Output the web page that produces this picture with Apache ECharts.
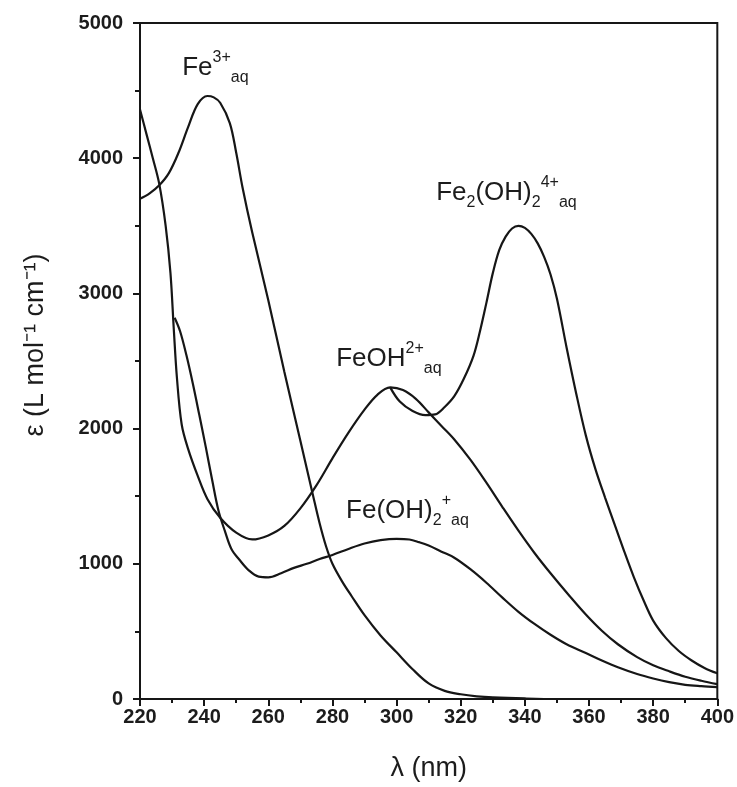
<!DOCTYPE html>
<html>
<head>
<meta charset="utf-8">
<script src="https://cdn.jsdelivr.net/npm/echarts@6/dist/echarts.min.js"></script>
<style>
  html, body { margin: 0; padding: 0; background: #fff; }
  #chart { width: 737px; height: 787px; }
</style>
</head>
<body>
<div id="chart"></div>
<script>
// wavelength (nm) / epsilon (L mol-1 cm-1)
const fe3X = [220, 223, 226, 229, 232, 235, 238, 241, 243, 245, 248, 250, 252, 255, 260, 265, 270, 274, 276, 278, 280, 283, 286, 290, 295, 300, 305, 310, 315, 320, 325, 330, 340, 350, 400];
const fe3Y = [3700, 3740, 3800, 3890, 4040, 4230, 4400, 4460, 4450, 4410, 4260, 4040, 3780, 3450, 2950, 2420, 1910, 1500, 1300, 1130, 1000, 870, 760, 620, 470, 345, 220, 115, 60, 35, 20, 12, 4, 0, 0];

const feohX = [220, 222, 224, 226, 228, 229.5, 230.5, 231.5, 233, 235, 238, 241, 245, 250, 255, 260, 265, 270, 275, 280, 285, 290, 294, 298, 302, 306, 310, 314, 318, 323, 328, 333, 338, 343, 348, 354, 359, 364, 369, 375, 380, 385, 390, 395, 400];
const feohY = [4360, 4180, 4000, 3810, 3500, 3150, 2750, 2380, 2030, 1850, 1650, 1480, 1340, 1230, 1180, 1210, 1280, 1410, 1580, 1780, 1970, 2140, 2250, 2305, 2285, 2220, 2120, 2020, 1920, 1770, 1600, 1420, 1245, 1080, 930, 760, 625, 505, 405, 310, 250, 205, 165, 135, 110];

const fe2X = [298, 301, 305, 309, 312, 315, 318, 321, 324, 326, 328, 330, 332, 334, 336, 338, 340, 342, 344, 346, 348, 350, 353, 356, 359, 362, 365, 368, 371, 374, 377, 380, 384, 388, 392, 396, 400];
const fe2Y = [2305, 2200, 2130, 2100, 2105, 2160, 2240, 2370, 2540, 2720, 2930, 3150, 3320, 3420, 3480, 3500, 3485, 3440, 3370, 3270, 3140, 2960, 2600, 2260, 1950, 1700, 1490, 1290, 1090, 900, 730, 580, 450, 355, 285, 230, 190];

const feoh2X = [230.8, 232.5, 234.5, 236.5, 238.5, 240.5, 242.5, 244.5, 246.5, 248.5, 251, 254, 257, 260, 264, 268, 272, 276, 280, 285, 290, 295, 300, 304, 307, 310, 314, 318, 323, 328, 333, 338, 343, 348, 353, 359, 364, 369, 375, 380, 385, 390, 395, 400];
const feoh2Y = [2820, 2720, 2540, 2330, 2100, 1865, 1620, 1390, 1240, 1110, 1030, 950, 905, 900, 930, 970, 1000, 1035, 1065, 1110, 1150, 1175, 1185, 1180, 1160, 1135, 1090, 1045, 960, 860, 750, 645, 555, 475, 405, 340, 285, 235, 185, 152, 125, 105, 95, 88];

const xTicks = [220, 400, 20];
const yTicks = [0, 5000, 1000];

function pairs(xs, ys) {
  return xs.map((x, i) => [x, ys[i]]);
}

const ink = '#161616';
const face = 'Liberation Sans, Arial';
const labelRich = {
  b: { fontSize: 26, lineHeight: 36, color: '#1c1c1c', fontFamily: face, verticalAlign: 'middle' },
  sup: { fontSize: 16, lineHeight: 22, color: '#1c1c1c', fontFamily: face, verticalAlign: 'top' },
  sub: { fontSize: 16, lineHeight: 22, color: '#1c1c1c', fontFamily: face, verticalAlign: 'bottom' },
  s2: { fontSize: 16, lineHeight: 26, color: '#1c1c1c', fontFamily: face, verticalAlign: 'bottom' }
};

function tag(coord, text) {
  return {
    symbol: 'circle',
    symbolSize: 1,
    itemStyle: { color: 'rgba(0,0,0,0)' },
    silent: true,
    data: [{
      coord: coord,
      label: { show: true, position: 'right', distance: 0, formatter: text, rich: labelRich }
    }]
  };
}

function curve(name, data, mark) {
  return {
    name: name,
    type: 'line',
    data: data,
    smooth: 0.35,
    symbol: 'none',
    lineStyle: { color: ink, width: 2.2 },
    markPoint: mark
  };
}

const chart = echarts.init(document.getElementById('chart'));
chart.setOption({
  animation: false,
  backgroundColor: '#fff',
  grid: {
    left: 140, right: 19, top: 23, bottom: 83,
    show: true, borderColor: ink, borderWidth: 2
  },
  xAxis: {
    type: 'value',
    min: xTicks[0], max: xTicks[1], interval: xTicks[2],
    name: 'λ (nm)',
    nameLocation: 'middle',
    nameGap: 56,
    nameTextStyle: { fontSize: 27, color: '#1c1c1c', fontFamily: face },
    axisLine: { lineStyle: { color: ink, width: 2 } },
    axisTick: { length: 7, lineStyle: { color: ink, width: 2 } },
    minorTick: { show: true, splitNumber: 2, length: 4, lineStyle: { color: ink, width: 2 } },
    splitLine: { show: false },
    axisLabel: {
      fontSize: 20, fontWeight: 'bold', color: '#1c1c1c', margin: 8, fontFamily: face,
      formatter: function (v) { return String(v); }
    }
  },
  yAxis: {
    type: 'value',
    min: yTicks[0], max: yTicks[1], interval: yTicks[2],
    name: 'ε (L mol⁻¹ cm⁻¹)',
    nameLocation: 'middle',
    nameGap: 91,
    nameRotate: 90,
    nameTextStyle: { fontSize: 27, color: '#1c1c1c', fontFamily: face, padding: [0, 0, 0, 32] },
    axisLine: { show: true, lineStyle: { color: ink, width: 2 } },
    axisTick: { show: true, length: 7, lineStyle: { color: ink, width: 2 } },
    minorTick: { show: true, splitNumber: 2, length: 5, lineStyle: { color: ink, width: 2 } },
    splitLine: { show: false },
    axisLabel: {
      fontSize: 20, fontWeight: 'bold', color: '#1c1c1c', margin: 17, fontFamily: face,
      formatter: function (v) { return String(v); }
    }
  },
  series: [
    curve('Fe3+aq', pairs(fe3X, fe3Y), tag([233, 4670], '{b|Fe}{sup|3+}{sub|aq}')),
    curve('FeOH2+aq', pairs(feohX, feohY), tag([281, 2518], '{b|FeOH}{sup|2+}{sub|aq}')),
    curve('Fe2(OH)2 4+aq', pairs(fe2X, fe2Y), tag([312.2, 3744], '{b|Fe}{s2|2}{b|(OH)}{s2|2}{sup|4+}{sub|aq}')),
    curve('Fe(OH)2+aq', pairs(feoh2X, feoh2Y), tag([284.1, 1395], '{b|Fe(OH)}{s2|2}{sup|+}{sub|aq}'))
  ]
});

window.addEventListener('resize', function () {
  chart.resize();
});
</script>
</body>
</html>
